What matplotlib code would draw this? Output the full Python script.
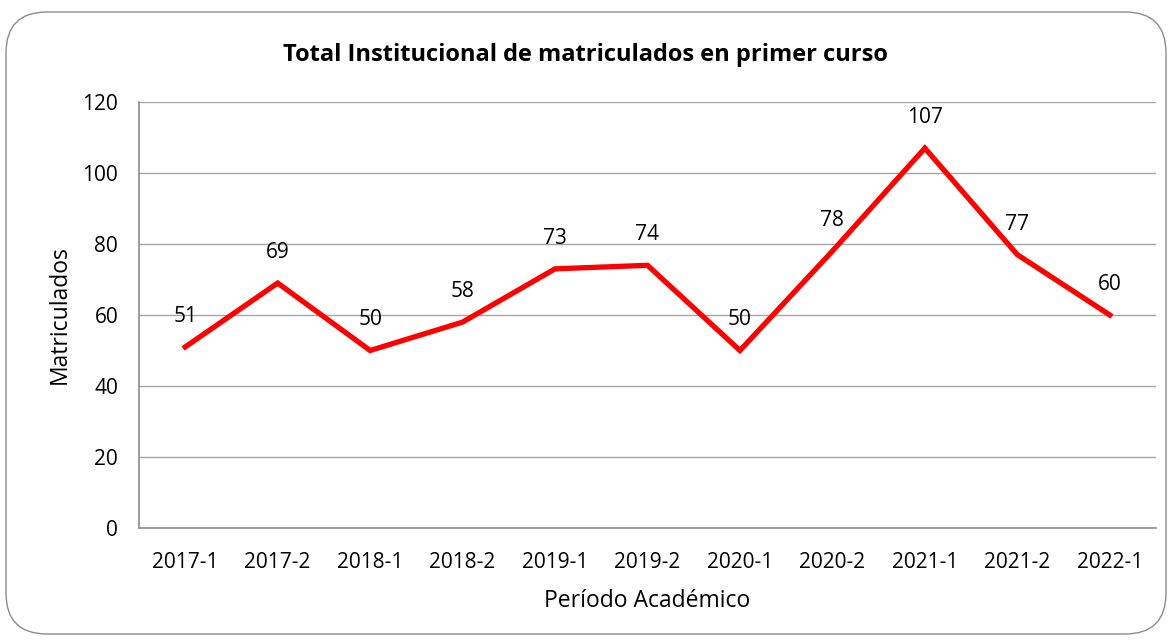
import matplotlib.pyplot as plt
from matplotlib.patches import FancyBboxPatch

# data
periodos = ["2017-1", "2017-2", "2018-1", "2018-2", "2019-1", "2019-2",
            "2020-1", "2020-2", "2021-1", "2021-2", "2022-1"]
matriculados = [51, 69, 50, 58, 73, 74, 50, 78, 107, 77, 60]
y_ticks = [0, 20, 40, 60, 80, 100, 120]

plt.rcParams['font.family'] = ['Open Sans', 'DejaVu Sans']

fig = plt.figure(figsize=(11.7, 6.4), dpi=100)
ax = fig.add_axes([139 / 1170, 1 - 528 / 640, 1017 / 1170, 426 / 640])

# rounded chart border
border = FancyBboxPatch((6 / 1170, 6 / 640), 1160 / 1170, 622 / 640,
                        boxstyle="round,pad=0,rounding_size=0.035",
                        transform=fig.transFigure, fill=False,
                        edgecolor="#8c8c8c", linewidth=1.0,
                        mutation_aspect=1170 / 640)
fig.patches.append(border)

x = list(range(len(periodos)))
ax.plot(x, matriculados, color="#ff0000", linewidth=3.8, solid_joinstyle="miter")

for xi, v in zip(x, matriculados):
    ax.annotate(str(v), (xi, v), xytext=(0, 22), textcoords="offset points",
                ha="center", va="center", fontsize=15, color="#000000")

ax.set_xlim(-0.5, len(periodos) - 0.5)
ax.set_ylim(0, 120)
ax.set_yticks(y_ticks)
ax.set_xticks(x)
ax.set_xticklabels(periodos)
ax.tick_params(length=0, labelsize=15, colors="#000000")
ax.tick_params(axis="x", pad=17)
ax.tick_params(axis="y", pad=15)
ax.grid(axis="y", color="#a6a6a6", linewidth=1.0)
ax.set_axisbelow(True)
for side in ["top", "right"]:
    ax.spines[side].set_visible(False)
for side in ["left", "bottom"]:
    ax.spines[side].set_color("#8c8c8c")
    ax.spines[side].set_linewidth(1.2)

ax.set_xlabel("Período Académico", fontsize=16.5, labelpad=12)
ax.set_ylabel("Matriculados", fontsize=16.5, labelpad=8)
fig.text(0.5, 1 - 55 / 640, "Total Institucional de matriculados en primer curso",
         ha="center", va="center", fontsize=17, fontweight="bold")

fig.savefig("out.png", dpi=100)
